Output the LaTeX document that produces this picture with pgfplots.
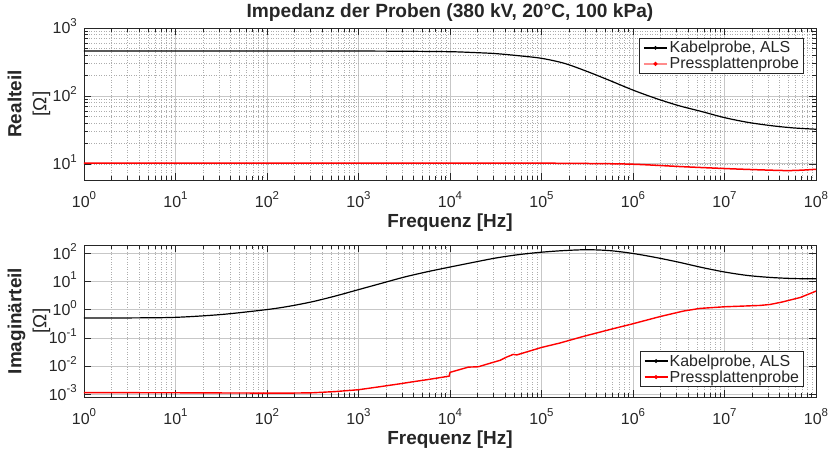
\documentclass[border=0pt]{standalone}
\usepackage{pgfplots}
\pgfplotsset{compat=1.18}
\usepackage{fontspec}
\setmainfont{Liberation Sans}
\definecolor{axgray}{RGB}{38,38,38}
\newcommand{\tp}[1]{10\raisebox{7.5bp}{\fontsize{11.5}{11.5}\selectfont #1}}

\pgfplotsset{
  legend image code/.code={\draw[#1] (0bp,0bp) -- (23bp,0bp); \fill[#1] (11.5bp,0bp) circle (1.2bp);},
  every axis/.append style={
    scale only axis, width=732bp, height=152bp,
    xmin=1, xmax=1e8,
    xtick={1,10,100,1000,1e4,1e5,1e6,1e7,1e8},
    xticklabels={\tp{0},\tp{1},\tp{2},\tp{3},\tp{4},\tp{5},\tp{6},\tp{7},\tp{8}},
    axis line style={axgray, line width=0.9bp},
    tick style={axgray, line width=0.8bp},
    major tick length=7bp, minor tick length=4bp,
    xmajorgrids, xminorgrids, ymajorgrids,
    major grid style={black!22, line width=0.9bp},
    minor grid style={black!32, line width=0.5bp, dotted},
    tick label style={font=\fontsize{16}{18}\selectfont, text=axgray, inner sep=0pt},
    xticklabel style={anchor=base, yshift=-27bp},
    yticklabel style={anchor=base east, xshift=-7bp, yshift=-5.8bp},
    label style={font=\bfseries\fontsize{19}{25}\selectfont, text=axgray},
    xlabel={Frequenz [Hz]},
    xlabel style={at={(axis description cs:0.5,0)}, anchor=base, yshift=-47bp},
    ylabel style={at={([xshift=-55bp]axis description cs:0,0.5)}, anchor=center, align=center},
    legend style={font=\fontsize{16}{18}\selectfont, draw=axgray, line width=0.8bp,
      inner xsep=3bp, inner ysep=1.5bp, row sep=0pt,
      nodes={inner sep=1.5bp, text=axgray}},
    legend cell align=left,
  }
}

\begin{document}
\begin{tikzpicture}
\path[use as bounding box] (-84bp,28bp) rectangle (746bp,-421bp);

% Realteil
\begin{loglogaxis}[at={(0,0)}, anchor=north west,
  ymin=5.8, ymax=1000,
  ytick={10,100,1000}, yticklabels={\tp{1},\tp{2},\tp{3}},
  yminorgrids,
  ylabel={Realteil\\{\mdseries[Ω]}},
  title={Impedanz der Proben (380 kV, 20°C, 100 kPa)},
  title style={font=\bfseries\fontsize{19.2}{21}\selectfont, text=axgray,
    at={(axis description cs:0.5,1)}, anchor=base, yshift=5bp},
  legend style={at={(rel axis cs:1,1)}, anchor=north east, xshift=-12bp, yshift=-10bp},
]
\addplot[black, line width=1.2bp, smooth] coordinates {
  (1,459) (3.162,459) (10,459) (31.62,459) (100,459) (316,458.5) (1000,458)
  (3162,455) (1e4,448) (17783,436) (31623,420) (56234,391) (1e5,358)
  (177828,302) (316228,229) (562341,168) (1e6,122) (1778279,92) (3162278,72)
  (5623413,59) (1e7,48) (1.778e7,41) (3.162e7,36.7) (5.623e7,33.9) (1e8,32.4)
};
\addlegendentry{Kabelprobe, ALS}
\addplot[red, line width=1.5bp, smooth,
  legend image code/.code={\draw[red!45, line width=2.5bp] (0bp,0bp) -- (23bp,0bp); \fill[red] (11.5bp,0bp) circle (1.2bp);}] coordinates {
  (1,10.3) (100,10.3) (1e3,10.3) (1e4,10.3) (1e5,10.25) (3.162e5,10.15)
  (1e6,9.9) (3.548e6,9.1) (1.259e7,8.45) (4.365e7,8.0) (7e7,8.1) (1e8,8.35)
};
\addlegendentry{Pressplattenprobe}
\end{loglogaxis}

% Imaginaerteil
\begin{loglogaxis}[at={(0,-217bp)}, anchor=north west,
  ymin=8e-4, ymax=200,
  ytick={1e-3,1e-2,1e-1,1,10,100},
  yticklabels={\tp{-3},\tp{-2},\tp{-1},\tp{0},\tp{1},\tp{2}},
  yminorticks=false,
  ylabel={Imaginärteil\\{\mdseries[Ω]}},
  legend style={at={(rel axis cs:1,0)}, anchor=south east, xshift=-12bp, yshift=10bp},
]
\addplot[black, line width=1.2bp, smooth] coordinates {
  (1,0.51) (3.162,0.515) (10,0.54) (31.62,0.68) (100,1.02) (177.8,1.35)
  (316.2,1.95) (562.3,3.1) (1000,5.2) (1778,8.7) (3162,14.5) (5623,22.4)
  (1e4,33) (17783,48) (31623,69) (56234,91) (1e5,111) (177828,127)
  (316228,136) (562341,126) (1e6,100) (1778279,72) (3162278,49) (5623413,32)
  (1e7,22) (1.778e7,16.6) (3.162e7,14.1) (5.623e7,12.9) (1e8,12.6)
};
\addlegendentry{Kabelprobe, ALS}
\addplot[red, line width=1.4bp] coordinates {
  (1,1.15e-3) (10,1.13e-3) (100,1.1e-3) (178,1.1e-3) (316,1.13e-3) (562,1.25e-3)
  (1000,1.45e-3) (1718,1.86e-3) (2818,2.35e-3) (3981,2.8e-3) (5623,3.3e-3)
  (9772,4.4e-3) (1e4,6.0e-3) (15849,9.2e-3) (20417,9.5e-3) (28184,0.013)
  (35156,0.016) (41687,0.021) (48978,0.026) (53703,0.025) (69183,0.032)
  (1e5,0.046) (158489,0.066) (288403,0.114) (562341,0.2) (1e6,0.32)
  (1995262,0.58) (3548134,0.9) (5370318,1.12) (1e7,1.28) (2.455e7,1.43)
  (3.162e7,1.55) (4.365e7,1.92) (6.761e7,2.75) (1e8,4.6)
};
\addlegendentry{Pressplattenprobe}
\end{loglogaxis}
\end{tikzpicture}
\end{document}
